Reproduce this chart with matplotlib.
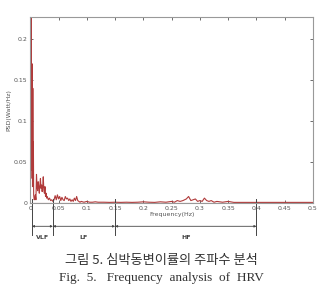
import matplotlib.pyplot as plt
import matplotlib.transforms as mtransforms

# PSD
freq = [0.000, 0.0005, 0.001, 0.0015, 0.002, 0.0025, 0.003, 0.0035, 0.004, 0.0045,
        0.005, 0.0055, 0.006, 0.007,
        0.008, 0.009, 0.010, 0.011, 0.012, 0.013, 0.014, 0.015, 0.016, 0.017,
        0.018, 0.019, 0.020, 0.021, 0.022, 0.023, 0.024, 0.025, 0.026, 0.027,
        0.028, 0.029, 0.030, 0.032, 0.034, 0.036, 0.038, 0.040, 0.042, 0.044,
        0.046, 0.048, 0.050, 0.052, 0.054, 0.056, 0.058, 0.060, 0.062, 0.064,
        0.066, 0.068, 0.070, 0.072, 0.074, 0.076, 0.078, 0.080, 0.082, 0.084,
        0.086, 0.088, 0.090, 0.095, 0.100, 0.105, 0.110, 0.115, 0.120, 0.130,
        0.140, 0.150, 0.160, 0.170, 0.180, 0.190, 0.200, 0.210, 0.220, 0.230,
        0.240, 0.250, 0.255, 0.260, 0.265, 0.270, 0.273, 0.276, 0.280, 0.284,
        0.288, 0.292, 0.296, 0.300, 0.304, 0.308, 0.312, 0.316, 0.320, 0.325,
        0.330, 0.340, 0.350, 0.360, 0.380, 0.400, 0.420, 0.450, 0.480, 0.500]
psd = [0.020, 0.260, 0.030, 0.260, 0.170, 0.040, 0.170, 0.140, 0.020, 0.140,
       0.060, 0.075, 0.010, 0.004,
       0.006, 0.010, 0.004, 0.035, 0.020, 0.015, 0.026, 0.020, 0.012, 0.022,
       0.030, 0.018, 0.022, 0.014, 0.020, 0.032, 0.016, 0.012, 0.020, 0.008,
       0.012, 0.006, 0.008, 0.004, 0.006, 0.003, 0.004, 0.002, 0.004, 0.009,
       0.004, 0.010, 0.005, 0.008, 0.003, 0.007, 0.004, 0.003, 0.008, 0.005,
       0.006, 0.003, 0.005, 0.002, 0.004, 0.002, 0.006, 0.003, 0.008, 0.003,
       0.002, 0.001, 0.002, 0.001, 0.002, 0.001, 0.001, 0.0015, 0.001, 0.001,
       0.0008, 0.001, 0.0008, 0.001, 0.0008, 0.001, 0.0015, 0.001, 0.0008, 0.0015,
       0.001, 0.002, 0.001, 0.003, 0.002, 0.003, 0.004, 0.005, 0.008, 0.003,
       0.004, 0.005, 0.002, 0.003, 0.002, 0.006, 0.003, 0.002, 0.003, 0.001,
       0.002, 0.001, 0.002, 0.0008, 0.0008, 0.0008, 0.0008, 0.0008, 0.0008, 0.0008]

band_edges = [0.003, 0.04, 0.15, 0.4]
band_names = ["VLF", "LF", "HF"]
xticks = [0, 0.05, 0.1, 0.15, 0.2, 0.25, 0.3, 0.35, 0.4, 0.45, 0.5]
xticklabels = ["0", "0.05", "0.1", "0.15", "0.2", "0.25", "0.3", "0.35", "0.4", "0.45", "0.5"]
yticks = [0, 0.05, 0.1, 0.15, 0.2]
yticklabels = ["0", "0.05", "0.1", "0.15", "0.2"]

fig = plt.figure(figsize=(3.22, 2.88), dpi=100)
ax = fig.add_axes([0.094, 0.295, 0.878, 0.646])

ax.plot(freq, psd, color="#b03a3a", lw=0.8)
ax.axhline(0, color="#b03a3a", lw=0.8)
ax.set_xlim(0, 0.5)
ax.set_ylim(0, 0.227)
ax.set_xticks(xticks)
ax.set_xticklabels(xticklabels)
ax.set_yticks(yticks)
ax.set_yticklabels(yticklabels)
ax.tick_params(direction="in", length=2, width=0.6, labelsize=4.5, pad=2,
               top=True, right=True, colors="#555555")
for s in ax.spines.values():
    s.set_color("#999999")
    s.set_linewidth(0.8)
ax.set_xlabel("Frequency(Hz)", fontsize=4.5, labelpad=1, color="#555555")
ax.set_ylabel("PSD(Watt/Hz)", fontsize=4.5, labelpad=2, color="#555555")

# band markers under the axis
trans = mtransforms.blended_transform_factory(ax.transData, ax.transAxes)
for e in band_edges:
    ax.plot([e, e], [0.02, -0.17], color="#444444", lw=0.7, transform=trans, clip_on=False)
for i, name in enumerate(band_names):
    a, b = band_edges[i], band_edges[i + 1]
    ax.annotate("", xy=(b, -0.125), xytext=(a, -0.125), xycoords=trans, textcoords=trans,
                arrowprops=dict(arrowstyle="<|-|>", color="#444444", lw=0.6,
                                mutation_scale=3, shrinkA=0, shrinkB=0))
    ax.text((a + b) / 2, -0.185, name, transform=trans, ha="center", va="center",
            fontsize=4.5, color="#444444", fontweight="bold")

fig.text(0.5, 0.097, "그림 5. 심박동변이률의 주파수 분석", ha="center", va="center",
         fontsize=9.5, fontweight="light", family=["Noto Sans CJK KR", "DejaVu Sans"],
         color="#333333")
fig.text(0.5, 0.035, "Fig.  5.   Frequency  analysis  of  HRV", ha="center", va="center",
         fontsize=9.5, family="Liberation Serif", color="#333333")

fig.savefig("out.png", dpi=100)
